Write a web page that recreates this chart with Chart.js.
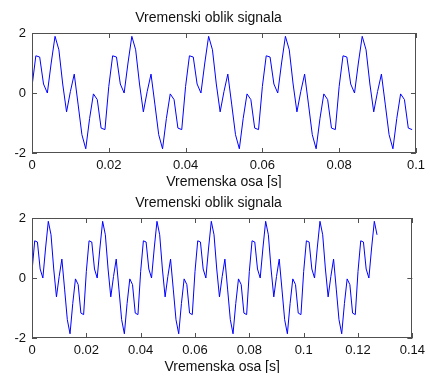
<!DOCTYPE html>
<html>
<head>
<meta charset="utf-8">
<script src="https://cdn.jsdelivr.net/npm/chart.js@4"></script>
<style>
  html, body { margin: 0; padding: 0; background: #fff; }
  .plot { position: absolute; left: 0; width: 430px; height: 188px; }
</style>
</head>
<body>
<div class="plot" style="top:0"><canvas id="plotTop" width="430" height="188"></canvas></div>
<div class="plot" style="top:185px"><canvas id="plotBottom" width="430" height="188"></canvas></div>
<script>
// sampling interval of the signal (1 ms)
const sampleStep = 0.001;

// signal samples (128 samples, same in both plots)
const signal = [
  0.22, 1.24, 1.20, 0.30, 0.00, 1.00, 1.89, 1.44, 0.30, -0.63, 0.05, 0.63, -0.37, -1.39, -1.86, -0.85, -0.03, -0.22, -1.17, -1.22,
  0.22, 1.24, 1.20, 0.30, 0.00, 1.00, 1.89, 1.44, 0.30, -0.63, 0.05, 0.63, -0.37, -1.39, -1.86, -0.85, -0.03, -0.22, -1.17, -1.22,
  0.22, 1.24, 1.20, 0.30, 0.00, 1.00, 1.89, 1.44, 0.30, -0.63, 0.05, 0.63, -0.37, -1.39, -1.86, -0.85, -0.03, -0.22, -1.17, -1.22,
  0.22, 1.24, 1.20, 0.30, 0.00, 1.00, 1.89, 1.44, 0.30, -0.63, 0.05, 0.63, -0.37, -1.39, -1.86, -0.85, -0.03, -0.22, -1.17, -1.22,
  0.22, 1.24, 1.20, 0.30, 0.00, 1.00, 1.89, 1.44, 0.30, -0.63, 0.05, 0.63, -0.37, -1.39, -1.86, -0.85, -0.03, -0.22, -1.17, -1.22,
  0.22, 1.24, 1.20, 0.30, 0.00, 1.00, 1.89, 1.44, 0.30, -0.63, 0.05, 0.63, -0.37, -1.39, -1.86, -0.85, -0.03, -0.22, -1.17, -1.22,
  0.22, 1.24, 1.20, 0.30, 0.00, 1.00, 1.89, 1.44
];

// first plot shows 100 samples, second shows all 128
const samplesTop = 100;
const samplesBottom = 128;

const xTicksTop = ["0", "0.02", "0.04", "0.06", "0.08", "0.1"];
const xTicksBottom = ["0", "0.02", "0.04", "0.06", "0.08", "0.1", "0.12", "0.14"];
const yTicks = ["-2", "0", "2"];

const titleText = "Vremenski oblik signala";
const xTitleText = "Vremenska osa [s]";

// MATLAB style box with inward ticks
const boxPlugin = {
  id: "box",
  afterDatasetsDraw(chart) {
    const { ctx, chartArea: a, scales: { x, y } } = chart;
    ctx.save();
    ctx.strokeStyle = "#505050";
    ctx.lineWidth = 1;
    ctx.beginPath();
    x.ticks.forEach(t => {
      const px = Math.round(x.getPixelForValue(t.value)) + 0.5;
      ctx.moveTo(px, a.bottom);
      ctx.lineTo(px, a.bottom - 5);
      ctx.moveTo(px, a.top);
      ctx.lineTo(px, a.top + 5);
    });
    y.ticks.forEach(t => {
      const py = Math.round(y.getPixelForValue(t.value)) + 0.5;
      ctx.moveTo(a.left, py);
      ctx.lineTo(a.left + 5, py);
      ctx.moveTo(a.right, py);
      ctx.lineTo(a.right - 5, py);
    });
    ctx.stroke();
    ctx.strokeRect(Math.round(a.left) + 0.5, Math.round(a.top) + 0.5,
                   Math.round(a.width) - 1, Math.round(a.height) - 1);
    ctx.restore();
  }
};

const font = { family: "'Liberation Sans', Arial, sans-serif", size: 13, weight: "normal" };
const titleFont = { family: "'Liberation Sans', Arial, sans-serif", size: 14, weight: "normal" };

function makePlot(id, count, xMax, xLabels) {
  const points = signal.slice(0, count).map((v, i) => ({ x: i * sampleStep, y: v }));

  return new Chart(document.getElementById(id), {
    type: "scatter",
    data: {
      datasets: [{
        data: points,
        showLine: true,
        borderColor: "#0000ff",
        borderWidth: 1,
        pointRadius: 0,
        tension: 0
      }]
    },
    options: {
      responsive: false,
      animation: false,
      layout: { padding: { left: 0, right: 13, top: 0, bottom: 0 } },
      plugins: {
        legend: { display: false },
        tooltip: { enabled: false },
        title: {
          display: true,
          text: titleText,
          color: "#111",
          font: titleFont,
          padding: { top: 10, bottom: 6.2 }
        }
      },
      scales: {
        x: {
          type: "linear",
          min: 0,
          max: xMax,
          grid: { display: false, drawTicks: false },
          border: { display: false },
          ticks: {
            stepSize: 0.02,
            padding: 5,
            color: "#111",
            font: font,
            maxRotation: 0,
            autoSkip: false,
            callback: (v, i) => xLabels[i]
          },
          title: {
            display: true,
            text: xTitleText,
            color: "#111",
            font: titleFont,
            padding: { top: 0, bottom: -2.4 }
          },
          afterFit: s => { s.height = 35; }
        },
        y: {
          min: -2,
          max: 2,
          grid: { display: false, drawTicks: false },
          border: { display: false },
          ticks: {
            stepSize: 2,
            padding: 6,
            color: "#111",
            font: font,
            callback: (v, i) => yTicks[i]
          },
          afterFit: s => { s.width = 32; }
        }
      }
    },
    plugins: [boxPlugin]
  });
}

makePlot("plotTop", samplesTop, 0.1, xTicksTop);
makePlot("plotBottom", samplesBottom, 0.14, xTicksBottom);
</script>
</body>
</html>
